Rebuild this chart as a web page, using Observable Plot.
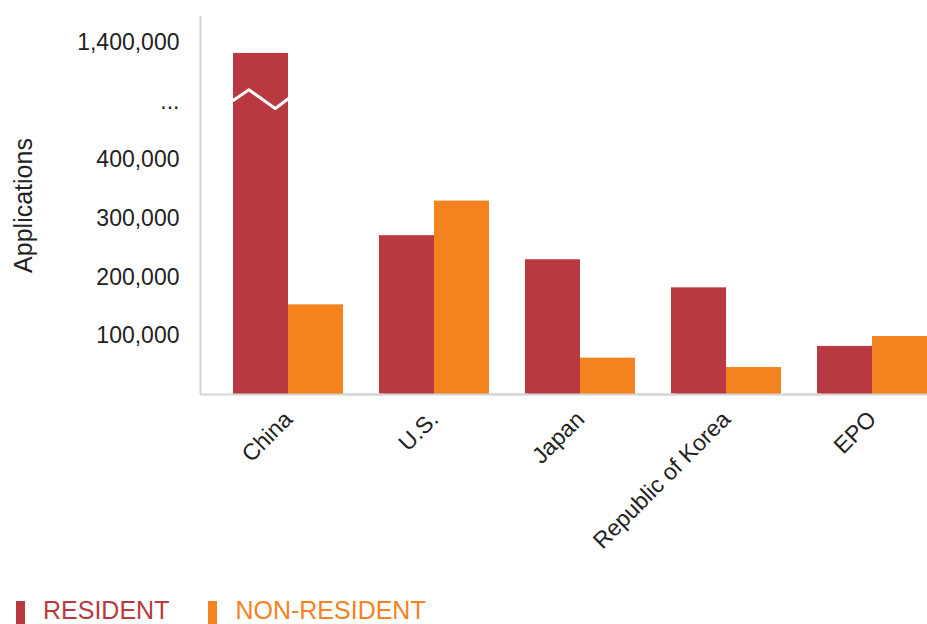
<!DOCTYPE html>
<html>
<head>
<meta charset="utf-8">
<script src="https://cdn.jsdelivr.net/npm/d3@7"></script>
<script src="https://cdn.jsdelivr.net/npm/@observablehq/plot@0.6"></script>
<style>
  html, body { margin: 0; padding: 0; background: #fff; }
  body { width: 927px; height: 624px; overflow: hidden; font-family: "Liberation Sans", Arial, sans-serif; }
  #legend { display: flex; align-items: flex-start; height: 22px; line-height: 22px; font-size: 25px; padding-left: 16px; margin-top: -3px; }
  #legend .item { display: flex; align-items: flex-start; margin-right: 39px; }
  #legend .sw { display: inline-block; width: 9px; height: 23px; margin-top: 2px; margin-right: 18px; }
  svg g[aria-label="y-axis label"] text, svg g[aria-label="y-axis"] .label { font-size: 25px; }
</style>
</head>
<body>
<div id="chart"></div>
<div id="legend"></div>
<script>
// ---- data ----
const countries = ["China", "U.S.", "Japan", "Republic of Korea", "EPO"];
const types = ["RESIDENT", "NON-RESIDENT"];
const residentValues = [1382000, 271000, 230000, 182000, 82000];
const nonResidentValues = [153000, 330000, 62000, 46000, 99000];
const colors = ["#b83a40", "#f4821f"];
const yTickValues = [100000, 200000, 300000, 400000, 1300000, 1400000];
const breakTickValue = 1300000;         // tick shown as "..."
const yBreak = [500000, 1300000];       // axis break: lower segment end, upper segment start
const yTop = 1445000;
// zig-zag break marker across the China resident bar (x as fraction of bar, y as value)
const breakX = [0, 0.28, 0.76, 1];
const breakY = [1302000, 1320000, 488000, 1305000];

// broken-axis mapping: values above the break are shifted down so 1,300,000 sits at 500,000
const compress = v => v <= yBreak[0] ? v : v >= yBreak[1] ? yBreak[0] + (v - yBreak[1]) : yBreak[0];
const expand = u => u < yBreak[0] ? u : yBreak[1] + (u - yBreak[0]);

const data = [];
countries.forEach((c, i) => {
  data.push({country: c, type: types[0], value: residentValues[i]});
  data.push({country: c, type: types[1], value: nonResidentValues[i]});
});
const breakLine = breakX.map((x, i) => ({country: "China", x, y: breakY[i]}));

// ---- layout ----
const width = 927, height = 602;
const marginTop = 16, marginBottom = 208, marginLeft = 200, marginRight = 0;

const plot = Plot.plot({
  width, height, marginTop, marginBottom, marginLeft, marginRight,
  style: {fontFamily: "Liberation Sans, Arial, sans-serif", fontSize: "23px", color: "#222", background: "#fff", overflow: "visible"},
  fx: {domain: countries, paddingInner: 0.2466, paddingOuter: 0.113, align: 1, label: null,
       tickRotate: -45, tickSize: 0, tickPadding: 21},
  x: {domain: [0, 2], axis: null},
  y: {domain: [0, compress(yTop)],
      ticks: yTickValues.map(compress),
      tickFormat: u => expand(u) === breakTickValue ? "..." : d3.format(",")(expand(u)),
      tickSize: 0, tickPadding: 54, label: "Applications", labelAnchor: "center", labelOffset: 219, labelArrow: false},
  color: {domain: types, range: colors},
  marks: [
    Plot.rectY(data, {fx: "country", x1: d => types.indexOf(d.type), x2: d => types.indexOf(d.type) + 1,
                      y1: 0, y2: d => compress(d.value), fill: "type"}),
    Plot.line(breakLine, {fx: "country", x: d => d.x, y: d => compress(d.y), stroke: "#fff", strokeWidth: 3}),
    Plot.ruleY([0], {stroke: "#d4d4d4", strokeWidth: 2, insetLeft: -33, insetRight: -40}),
    Plot.ruleX(["China"], {fx: d => d, x: 0, dx: -33, stroke: "#d4d4d4", strokeWidth: 2})
  ]
});
document.getElementById("chart").appendChild(plot);

const legend = document.getElementById("legend");
types.forEach((t, i) => {
  const item = document.createElement("div");
  item.className = "item";
  item.innerHTML = `<span class="sw" style="background:${colors[i]}"></span><span style="color:${colors[i]}">${t}</span>`;
  legend.appendChild(item);
});
</script>
</body>
</html>
